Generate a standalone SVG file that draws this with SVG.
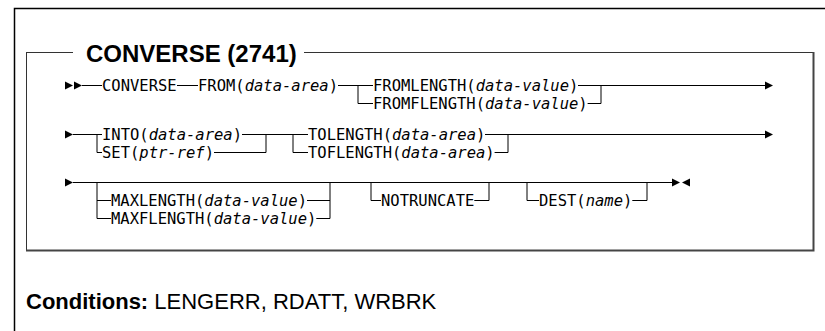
<svg xmlns="http://www.w3.org/2000/svg" width="825" height="331" viewBox="0 0 825 331">
<style>
.t{font-family:"DejaVu Sans Mono","Liberation Mono",monospace;font-size:15.5px;fill:#000}
.i{font-style:italic}
.ln{stroke:#000;stroke-width:1;fill:none}
.fr{stroke:#000;stroke-width:1.5;fill:none}
.bx{stroke:#333;stroke-width:1;fill:none}
.bx2{stroke:#444;stroke-width:2;fill:none}
.ar{fill:#000}
.h{font-family:"Liberation Sans",Arial,sans-serif;fill:#000}
</style>
<rect width="825" height="331" fill="#fff"/>
<g id="frame">
<path class="fr" d="M14.5,331 V8.5 H825"/>
<path class="bx" d="M26,52.5 H73 M304,52.5 H813 M26.5,52 V251"/>
<path class="bx2" d="M813.5,52 V251.5 M26,250.5 H814.5"/>
</g>
<g id="title"><text class="h" x="86" y="62" font-size="24" font-weight="bold">CONVERSE (2741)</text></g>
<g id="connectors">
<polygon class="ar" points="65,81.5 73,85.5 65,89.5"/>
<polygon class="ar" points="74,81.5 82,85.5 74,89.5"/>
<path class="ln" d="M82,85.5 H102 M177,85.5 H198 M338,85.5 H373 M358,85.5 V103.5 H373 M578,85.5 H766 M587.6,103.5 H601 V85.5"/>
<polygon class="ar" points="765,81.5 773,85.5 765,89.5"/>
<polygon class="ar" points="65,130.5 73,134.5 65,138.5"/>
<path class="ln" d="M73,134.5 H102 M97,134.5 V152.5 H102 M242,134.5 H308 M214,152.5 H266 V134.5 M293,134.5 V152.5 H308 M494.6,152.5 H508 V134.5 M485,134.5 H766"/>
<polygon class="ar" points="765,130.5 773,134.5 765,138.5"/>
<polygon class="ar" points="65,178.5 73,182.5 65,186.5"/>
<path class="ln" d="M73,182.5 H673 M97,182.5 V218.5 H111 M97,200.5 H111 M307,200.5 H330 M316.3,218.5 H330 V182.5 M371,182.5 V200.5 H381 M474.3,200.5 H489 V182.5 M527,182.5 V200.5 H539 M632.3,200.5 H647 V182.5"/>
<polygon class="ar" points="672,178.5 680,182.5 672,186.5"/>
<polygon class="ar" points="690,178.5 682,182.5 690,186.5"/>
</g>
<g id="n-converse"><text class="t" x="102" y="91">CONVERSE</text></g>
<g id="n-from"><text class="t" x="198" y="91">FROM(<tspan class="i">data-area</tspan>)</text></g>
<g id="n-fromlength"><text class="t" x="373" y="91">FROMLENGTH(<tspan class="i">data-value</tspan>)</text></g>
<g id="n-fromflength"><text class="t" x="373" y="109">FROMFLENGTH(<tspan class="i">data-value</tspan>)</text></g>
<g id="n-into"><text class="t" x="102" y="140">INTO(<tspan class="i">data-area</tspan>)</text></g>
<g id="n-set"><text class="t" x="102" y="158">SET(<tspan class="i">ptr-ref</tspan>)</text></g>
<g id="n-tolength"><text class="t" x="308" y="140">TOLENGTH(<tspan class="i">data-area</tspan>)</text></g>
<g id="n-toflength"><text class="t" x="308" y="158">TOFLENGTH(<tspan class="i">data-area</tspan>)</text></g>
<g id="n-maxlength"><text class="t" x="111" y="206">MAXLENGTH(<tspan class="i">data-value</tspan>)</text></g>
<g id="n-maxflength"><text class="t" x="111" y="224">MAXFLENGTH(<tspan class="i">data-value</tspan>)</text></g>
<g id="n-notruncate"><text class="t" x="381" y="206">NOTRUNCATE</text></g>
<g id="n-dest"><text class="t" x="539" y="206">DEST(<tspan class="i">name</tspan>)</text></g>
<g id="conditions"><text class="h" x="26" y="309" font-size="22"><tspan font-weight="bold">Conditions:</tspan> LENGERR, RDATT, WRBRK</text></g>
</svg>
